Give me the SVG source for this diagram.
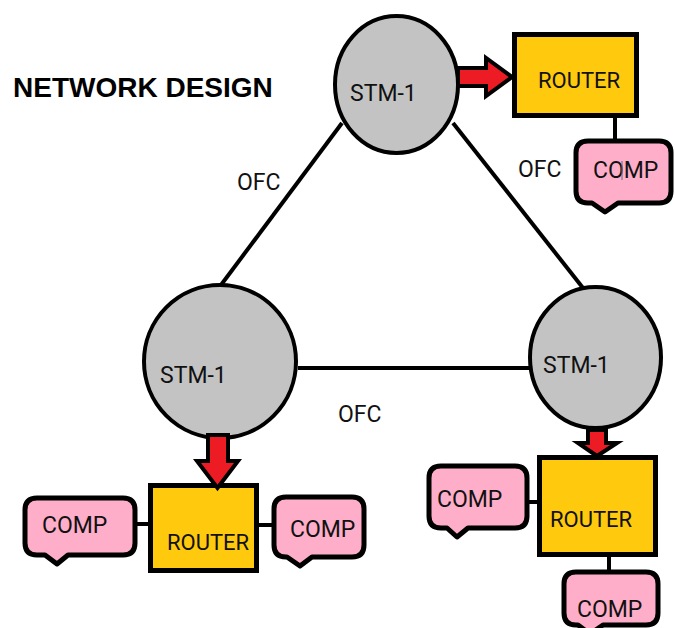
<svg xmlns="http://www.w3.org/2000/svg" width="675" height="628" viewBox="0 0 675 628">
  <style>
    .stm { fill: #c3c3c3; stroke: #000; stroke-width: 4; }
    .router { fill: #ffc90e; stroke: #000; stroke-width: 5; }
    .comp { fill: #ffaec9; stroke: #000; stroke-width: 5; stroke-linejoin: round; }
    .lbl { font-family: Roboto, "Liberation Sans", sans-serif; font-size: 23px; fill: #111; }
    .router-lbl { font-size: 22px; }
    .link { stroke: #000; stroke-width: 4; fill: none; }
    .arrow { fill: #ed1c24; stroke: #000; stroke-width: 4; stroke-linejoin: miter; }
    .title { font-family: "Liberation Sans", Arial, sans-serif; font-weight: bold; font-size: 28px; fill: #000; }
  </style>

  <rect width="675" height="628" fill="#fff"/>

  <text class="title" x="13" y="97">NETWORK DESIGN</text>

  <!-- STM-1 nodes -->
  <g id="stm-top">
    <ellipse class="stm" cx="396.5" cy="84.5" rx="61.5" ry="68.5"/>
    <text class="lbl" x="350" y="101">STM-1</text>
  </g>
  <g id="stm-left">
    <ellipse class="stm" cx="220" cy="361.5" rx="76" ry="76.5"/>
    <text class="lbl" x="160" y="383">STM-1</text>
  </g>
  <g id="stm-right">
    <ellipse class="stm" cx="595.5" cy="357.5" rx="65.5" ry="70.5"/>
    <text class="lbl" x="543" y="373">STM-1</text>
  </g>

  <!-- routers -->
  <g id="router-top">
    <rect class="router" x="514.5" y="34.5" width="122" height="81"/>
    <text class="lbl router-lbl" x="538" y="88">ROUTER</text>
  </g>
  <g id="router-left">
    <rect class="router" x="150.5" y="485.5" width="106" height="85"/>
    <text class="lbl router-lbl" x="167" y="550">ROUTER</text>
  </g>
  <g id="router-right">
    <rect class="router" x="539.5" y="457.5" width="116" height="97"/>
    <text class="lbl router-lbl" x="550" y="527">ROUTER</text>
  </g>

  <!-- computers (callout shapes) -->
  <g id="comp-top">
    <path class="comp" d="M588,141 H659 Q671,141 671,153 V191 Q671,203 659,203 H618 L605,212 L592,203 H588 Q576,203 576,191 V153 Q576,141 588,141 Z"/>
    <text class="lbl" x="593" y="178">COMP</text>
    <line x1="622" y1="161" x2="622" y2="180" stroke="#5a6f8a" stroke-width="1"/>
  </g>
  <g id="comp-left-a">
    <path class="comp" d="M37,498 H123 Q135,498 135,510 V543 Q135,555 123,555 H68 L57,564 L45,555 H37 Q25,555 25,543 V510 Q25,498 37,498 Z"/>
    <text class="lbl" x="42" y="533">COMP</text>
  </g>
  <g id="comp-left-b">
    <path class="comp" d="M286,497 H352 Q364,497 364,509 V545 Q364,557 352,557 H312 L300,566 L287,557 H286 Q274,557 274,545 V509 Q274,497 286,497 Z"/>
    <text class="lbl" x="290" y="537">COMP</text>
  </g>
  <g id="comp-right-a">
    <path class="comp" d="M441,466 H515 Q527,466 527,478 V516 Q527,528 515,528 H468 L457,537 L447,528 H441 Q429,528 429,516 V478 Q429,466 441,466 Z"/>
    <text class="lbl" x="437" y="507">COMP</text>
  </g>
  <g id="comp-right-b">
    <path class="comp" d="M576,572 H646 Q658,572 658,584 V613 Q658,625 646,625 H603 L590,634 L578,625 H576 Q564,625 564,613 V584 Q564,572 576,572 Z"/>
    <text class="lbl" x="577" y="617">COMP</text>
  </g>

  <!-- links, feeds and labels -->
  <g id="connectors">
    <line class="link" x1="342" y1="123" x2="221" y2="285"/>
    <line class="link" x1="453" y1="123" x2="583" y2="288"/>
    <line class="link" x1="298" y1="368" x2="530" y2="368"/>

    <line class="link" x1="615" y1="118" x2="615" y2="139"/>
    <line class="link" x1="137" y1="524" x2="148" y2="524"/>
    <line class="link" x1="259" y1="525" x2="272" y2="525"/>
    <line class="link" x1="529" y1="502" x2="537" y2="502"/>
    <line class="link" x1="609" y1="557" x2="609" y2="570"/>

    <path class="arrow" d="M458,68 H486 V58 L512,77 L486,96 V86 H458 Z"/>
    <path class="arrow" d="M208,435 H228 V461 H238 L217.5,488 L197,461 H208 Z"/>
    <path class="arrow" d="M588,430 H606 V443 H617 L597,456 L578,443 H588 Z"/>

    <text class="lbl" x="237" y="190">OFC</text>
    <text class="lbl" x="518" y="177">OFC</text>
    <text class="lbl" x="338" y="422">OFC</text>
  </g>
</svg>
